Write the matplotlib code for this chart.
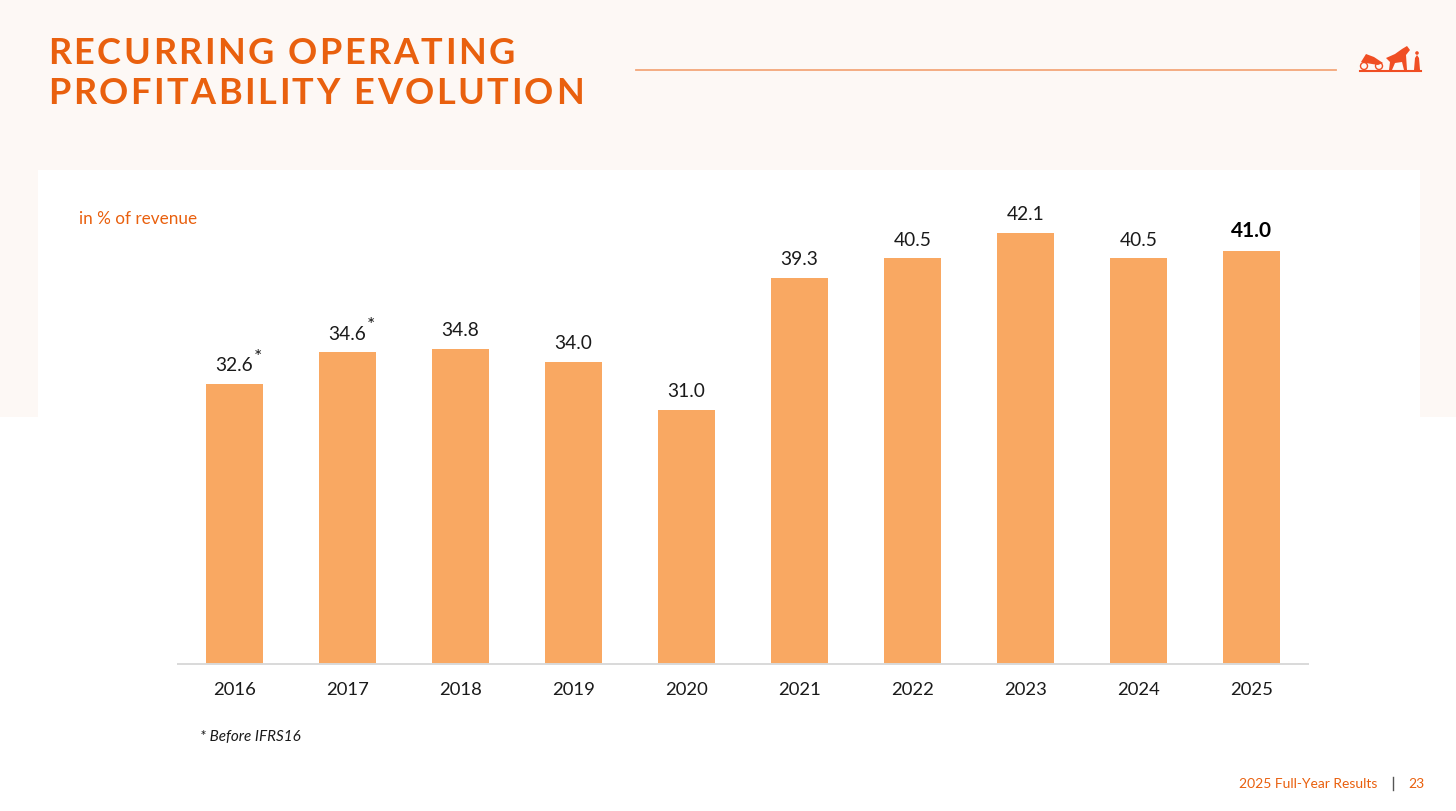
import matplotlib
matplotlib.use("Agg")
import matplotlib.pyplot as plt
from matplotlib.patches import Rectangle, Circle, Polygon
from matplotlib.transforms import IdentityTransform

# data
years = ["2016", "2017", "2018", "2019", "2020", "2021", "2022", "2023", "2024", "2025"]
margin_pct = [32.6, 34.6, 34.8, 34.0, 31.0, 39.3, 40.5, 42.1, 40.5, 41.0]
before_ifrs16 = ["2016", "2017"]   # labels that carry an asterisk
highlight_year = "2025"

title_lines = ["RECURRING OPERATING", "PROFITABILITY EVOLUTION"]
unit_note = "in % of revenue"
footnote = "* Before IFRS16"
footer_text = "2025 Full-Year Results"
page_no = "23"

W, H = 1456, 811
BG = "#FDF8F5"
ORANGE = "#E9600E"
LOGO = "#F04E23"
BAR = "#F9A862"
INK = "#1A1A1A"

plt.rcParams["font.family"] = ["Lato", "DejaVu Sans"]

fig = plt.figure(figsize=(W / 100, H / 100), dpi=100)
fig.patch.set_facecolor("white")


def px(x, y):
    """top-left pixel coords -> figure fraction"""
    return x / W, 1 - y / H


def pxp(x, y):
    """top-left pixel coords -> display pixels"""
    return x, H - y


# cream band on top, white panel behind the chart
fig.add_artist(Rectangle(px(0, 417), 1, 417 / H, transform=fig.transFigure,
                         facecolor=BG, edgecolor="none", zorder=0))
fig.add_artist(Rectangle((38 / W, 0), (1420 - 38) / W, 1 - 170 / H,
                         transform=fig.transFigure, facecolor="white",
                         edgecolor="none", zorder=0))


def tracked(x, y, s, size, track, **kw):
    """draw s letter by letter from pixel (x, y-baseline, top-left origin)"""
    r = fig.canvas.get_renderer()
    cx = x
    for ch in s:
        if ch == " ":
            cx += size * 0.35 + track
            continue
        t = fig.text(cx, H - y, ch, fontsize=size, transform=IdentityTransform(),
                     va="baseline", ha="left", **kw)
        cx += t.get_window_extent(r).width + track


tracked(48, 64, title_lines[0], 26, 2.5, color=ORANGE, weight="bold")
tracked(48, 104, title_lines[1], 26, 2.5, color=ORANGE, weight="bold")

fig.add_artist(plt.Line2D([636 / W, 1336 / W], [1 - 70 / H] * 2,
                          transform=fig.transFigure, color="#F4A77A", lw=1.3))

# rough carriage mark, top right
idt = IdentityTransform()
fig.add_artist(plt.Line2D([1360, 1421], [H - 71, H - 71], transform=idt,
                          color=LOGO, lw=1.5))
for cx_, cy_, rr in [(1364, 66, 3.5), (1379, 66, 3.5)]:
    fig.add_artist(Circle(pxp(cx_, cy_), rr, transform=idt, fill=False,
                          edgecolor=LOGO, lw=1))
fig.add_artist(Polygon([pxp(*p) for p in [(1361, 62), (1366, 54), (1374, 57),
                                          (1383, 63), (1378, 65), (1366, 63)]],
                       closed=True, transform=idt, facecolor=LOGO, edgecolor="none"))
fig.add_artist(Polygon([pxp(*p) for p in [(1386, 58), (1395, 54), (1402, 49),
                                          (1407, 46), (1410, 50), (1406, 55),
                                          (1407, 70), (1404, 70), (1402, 62),
                                          (1395, 63), (1392, 70), (1389, 70),
                                          (1390, 62)]],
                       closed=True, transform=idt, facecolor=LOGO, edgecolor="none"))
fig.add_artist(Polygon([pxp(*p) for p in [(1414, 70), (1415, 58), (1417, 55),
                                          (1419, 58), (1420, 70)]],
                       closed=True, transform=idt, facecolor=LOGO, edgecolor="none"))
fig.add_artist(Circle(pxp(1417, 53), 1.8, transform=idt, facecolor=LOGO,
                      edgecolor="none"))

fig.text(*px(79, 224), unit_note, color=ORANGE, fontsize=12.3, va="baseline")

# chart
ax = fig.add_axes([178 / W, 147 / H, 1130 / W, (664 - 171) / H])
ax.patch.set_visible(False)
x = list(range(len(years)))
ax.bar(x, margin_pct, width=0.5, color=BAR, zorder=2)
ax.set_xlim(-0.5, len(years) - 0.5)
ax.set_ylim(15, 46)
for s in ("top", "right", "left"):
    ax.spines[s].set_visible(False)
ax.spines["bottom"].set_color("#D9D9D9")
ax.spines["bottom"].set_linewidth(1.4)
ax.set_yticks([])
ax.set_xticks(x)
ax.set_xticklabels(years, fontsize=13.3, color=INK)
ax.tick_params(axis="x", length=0, pad=13)

for i, (yr, v) in enumerate(zip(years, margin_pct)):
    bold = yr == highlight_year
    ax.annotate(f"{v:.1f}", (i, v), xytext=(0, 7), textcoords="offset points",
                ha="center", va="bottom", fontsize=15 if bold else 13.8,
                weight="bold" if bold else "normal", color="black" if bold else INK)
    if yr in before_ifrs16:
        ax.annotate("*", (i, v), xytext=(17, 15), textcoords="offset points",
                    ha="center", va="baseline", fontsize=14, color=INK)

fig.text(*px(200, 741), footnote, fontsize=11, style="italic", color=INK,
         va="baseline")

# footer
fig.text(*px(1377, 788), footer_text, fontsize=10, color=ORANGE, ha="right",
         va="baseline")
fig.add_artist(plt.Line2D([1393 / W] * 2, [1 - 777 / H, 1 - 790 / H],
                          transform=fig.transFigure, color="#555555", lw=1))
fig.text(*px(1408, 788), page_no, fontsize=10, color=ORANGE, va="baseline")

fig.savefig("out.png", dpi=100, facecolor=fig.get_facecolor())
